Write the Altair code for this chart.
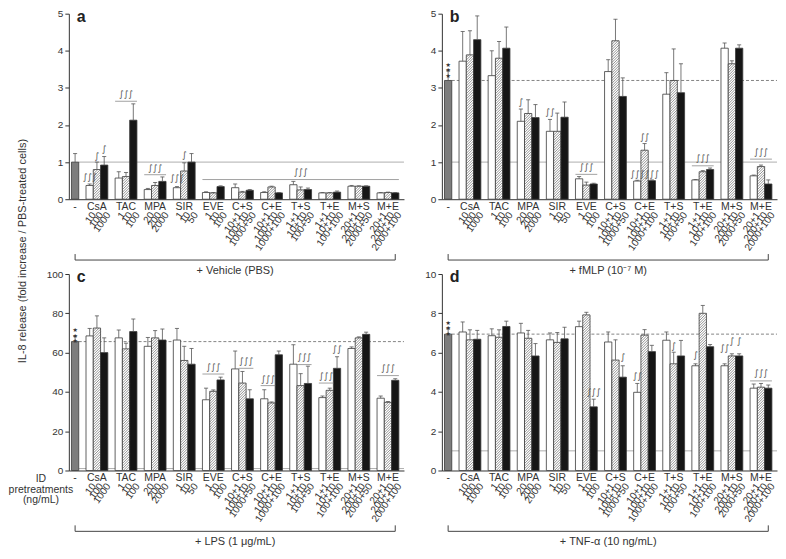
import altair as alt
import pandas as pd

# ---------------- data ----------------
groups = ["CsA", "TAC", "MPA", "SIR", "EVE", "C+S", "C+E", "T+S", "T+E", "M+S", "M+E"]
doses = [["10", "100", "1000"], ["1", "10", "100"], ["20", "200", "2000"], ["1", "10", "50"],
         ["1", "10", "100"], ["10+1", "100+10", "1000+50"], ["10+1", "100+10", "1000+100"],
         ["1+1", "10+10", "100+50"], ["1+1", "10+10", "100+100"], ["20+1", "200+10", "2000+50"],
         ["20+1", "200+10", "2000+100"]]

# panel a : + Vehicle (PBS)   [control mean, control upper error]
a_ctrl = [1.00, 1.23]
a_mean = [0.37, 0.80, 0.92, 0.57, 0.61, 2.13, 0.26, 0.37, 0.48, 0.31, 0.76, 1.00,
          0.18, 0.17, 0.34, 0.31, 0.19, 0.24, 0.18, 0.33, 0.17, 0.39, 0.25, 0.26,
          0.17, 0.17, 0.19, 0.35, 0.35, 0.35, 0.17, 0.18, 0.17]
a_top = [0.41, 1.00, 1.15, 0.74, 0.72, 2.57, 0.29, 0.45, 0.60, 0.34, 0.98, 1.23,
         0.20, 0.18, 0.36, 0.41, 0.21, 0.26, 0.20, 0.35, 0.18, 0.48, 0.33, 0.30,
         0.18, 0.18, 0.22, 0.37, 0.36, 0.36, 0.18, 0.19, 0.18]
a_ann = [("∫∫∫", 0, 0, 0.61, None), ("∫", 1, 1, 1.17, None), ("∫", 2, 2, 1.35, None),
         ("∫∫∫", 3, 5, 2.84, 2.64), ("∫∫∫", 6, 8, 0.84, 0.66), ("∫∫∫", 9, 9, 0.58, None),
         ("∫", 10, 10, 1.2, None), ("∫∫∫", 12, 32, 0.74, 0.53)]

# panel b : + fMLP
b_ctrl = [3.20, 3.46]
b_mean = [3.72, 3.89, 4.30, 3.33, 3.80, 4.07, 2.10, 2.31, 2.20, 1.83, 1.83, 2.21,
          0.55, 0.38, 0.41, 3.44, 4.27, 2.77, 0.49, 1.32, 0.50, 2.83, 3.20, 2.87,
          0.52, 0.74, 0.80, 4.07, 3.65, 4.07, 0.63, 0.88, 0.41]
b_top = [4.52, 4.54, 4.94, 4.00, 4.25, 4.64, 2.43, 2.68, 2.55, 2.15, 2.32, 2.62,
         0.61, 0.46, 0.43, 3.76, 4.85, 3.27, 0.51, 1.50, 0.52, 3.41, 4.05, 3.65,
         0.53, 0.77, 0.84, 4.21, 3.73, 4.16, 0.65, 0.92, 0.52]
b_ann = [("∫", 6, 6, 2.63, None), ("∫∫", 9, 9, 2.35, None), ("∫∫∫", 12, 14, 0.88, 0.67),
         ("∫∫∫", 18, 18, 0.69, None), ("∫∫", 19, 19, 1.68, None), ("∫∫∫", 20, 20, 0.69, None),
         ("∫∫∫", 24, 26, 1.10, 0.90), ("∫∫∫", 30, 32, 1.27, 1.08)]

# panel c : + LPS
c_ctrl = [65.6, 68.3]
c_mean = [68.5, 72.5, 60.0, 67.5, 61.9, 70.7, 63.2, 67.5, 66.4, 66.4, 56.0, 54.1,
          36.0, 40.3, 46.1, 51.7, 44.5, 36.5, 36.5, 34.4, 58.9, 54.1, 43.2, 44.3,
          37.1, 40.8, 52.0, 62.1, 67.5, 69.3, 36.8, 34.7, 45.9]
c_top = [72.3, 78.7, 67.5, 71.5, 64.8, 77.1, 67.7, 71.2, 72.0, 72.3, 63.2, 62.1,
         41.9, 41.0, 47.5, 60.8, 50.4, 41.1, 41.1, 34.9, 60.8, 64.0, 49.3, 53.1,
         37.9, 41.9, 57.9, 62.9, 68.0, 70.4, 37.9, 35.1, 46.7]
c_ann = [("∫∫∫", 12, 14, 52.5, 49.1), ("∫∫∫", 16, 17, 55.7, 52.0), ("∫∫∫", 18, 19, 46.4, 43.2),
         ("∫∫∫", 22, 23, 57.6, 53.9), ("∫∫∫", 24, 25, 48.0, 44.5), ("∫∫", 26, 26, 61.6, None),
         ("∫∫∫", 30, 32, 52.0, 48.3)]

# panel d : + TNF-alpha
d_ctrl = [6.94, 7.21]
d_mean = [7.05, 6.65, 6.68, 6.86, 6.78, 7.33, 7.00, 6.73, 5.83, 6.65, 6.52, 6.70,
          7.32, 7.92, 3.24, 6.54, 5.62, 4.75, 3.98, 6.89, 6.05, 6.63, 5.43, 5.83,
          5.33, 8.00, 6.30, 5.33, 5.83, 5.83, 4.19, 4.24, 4.19]
d_top = [7.56, 7.16, 7.13, 7.21, 7.16, 7.60, 7.49, 7.13, 6.46, 7.00, 7.02, 7.29,
         7.60, 8.05, 3.63, 7.05, 6.65, 5.33, 4.43, 7.17, 6.37, 7.05, 6.02, 6.62,
         5.43, 8.40, 6.41, 5.43, 5.94, 5.94, 4.40, 4.43, 4.35]
d_ann = [("∫∫∫", 14, 14, 4.0, None), ("∫", 17, 17, 5.78, None), ("∫∫", 18, 18, 4.83, None),
         ("∫", 22, 22, 6.33, None), ("∫", 24, 24, 5.86, None), ("∫∫", 27, 27, 6.25, None),
         ("∫", 28, 28, 6.57, None), ("∫", 29, 29, 6.57, None), ("∫∫∫", 30, 32, 4.94, 4.56)]

# ---------------- layout ----------------
FONT = "Liberation Sans"
TXT = "#333333"
W = 336
H_TOP = 186
H_BOT = 197
XMIN, XMAX = -0.86, 45.2
KINDS = ["white", "hatch", "black"]


def slot_of(i):
    g, k = divmod(i, 3)
    return 2 + 4 * g + k


def make_panel(ctrl, means, tops, ymax, yticks, H, letter, cond, ann,
               dashed=None, stars=False, extra=None):
    xsc = alt.Scale(domain=[XMIN, XMAX], nice=False, zero=False)
    ysc = alt.Scale(domain=[0, ymax], nice=False, zero=True)
    xax = alt.Axis(labels=False, ticks=False, title=None, grid=False,
                   domainColor="#333333", domainWidth=1)
    yax = alt.Axis(values=yticks, title=None, grid=False, tickSize=4,
                   labelFontSize=10, labelColor=TXT, domainColor="#333333",
                   tickColor="#333333", labelPadding=2, labelFont=FONT)
    X = lambda f: alt.X(f, type="quantitative", scale=xsc, axis=xax, title=None)
    Y = lambda f: alt.Y(f, type="quantitative", scale=ysc, axis=yax, title=None)
    pps = W / (XMAX - XMIN)
    ppu = H / ymax

    rows = [dict(slot=0, x0=-0.5, x1=0.5, mean=ctrl[0], top=ctrl[1], kind="ctrl")]
    for i, (m, t) in enumerate(zip(means, tops)):
        s = slot_of(i)
        rows.append(dict(slot=s, x0=s - 0.5, x1=s + 0.5, mean=m, top=t, kind=KINDS[i % 3]))
    bars = pd.DataFrame(rows)
    bars["base"] = 0.0
    bars["cl"] = bars["slot"] - 0.28
    bars["cr"] = bars["slot"] + 0.28

    # diagonal hatch texture for the middle dose bars
    hs = []
    sp = 2.6
    bw = pps
    for r in rows:
        if r["kind"] != "hatch":
            continue
        bh = r["mean"] * ppu
        c = -bw + sp / 2
        while c < bh:
            xs = max(0.0, -c)
            xe = min(bw, bh - c)
            if xe > xs:
                hs.append(dict(hx=r["x0"] + xs / pps, hx2=r["x0"] + xe / pps,
                               hy=(xs + c) / ppu, hy2=(xe + c) / ppu))
            c += sp
    hatch = pd.DataFrame(hs)

    ref = pd.DataFrame([dict(xa=0.5, xb=XMAX, y=1.0)])
    layers = [alt.Chart(ref).mark_rule(color="#9a9a9a", strokeWidth=0.8).encode(
        x=X("xa"), x2="xb", y=Y("y"))]
    if dashed is not None:
        dref = pd.DataFrame([dict(xa=0.5, xb=XMAX, y=dashed)])
        layers.append(alt.Chart(dref).mark_rule(color="#666666", strokeWidth=0.8,
                                                 strokeDash=[3, 2]).encode(
            x=X("xa"), x2="xb", y=Y("y")))

    layers.append(alt.Chart(bars).mark_bar(stroke="#3a3a3a", strokeWidth=0.8).encode(
        x=X("x0"), x2="x1:Q", y=Y("mean"), y2="base:Q",
        fill=alt.Color("kind:N", legend=None,
                       scale=alt.Scale(domain=["ctrl", "white", "hatch", "black"],
                                       range=["#7d7d7d", "#ffffff", "#ffffff", "#161616"]))))
    layers.append(alt.Chart(hatch).mark_rule(color="#4a4a4a", strokeWidth=0.6).encode(
        x=X("hx"), x2="hx2", y=Y("hy"), y2="hy2"))
    layers.append(alt.Chart(bars).mark_rule(color="#555555", strokeWidth=0.8).encode(
        x=X("slot"), y=Y("mean"), y2="top"))
    layers.append(alt.Chart(bars).mark_rule(color="#555555", strokeWidth=0.8).encode(
        x=X("cl"), x2="cr", y=Y("top")))

    # significance annotations
    at, al = [], []
    for lab, i0, i1, yt, yl in ann:
        s0, s1 = slot_of(i0), slot_of(i1)
        at.append(dict(lab=lab, xc=(s0 + s1) / 2, y=yt))
        if yl is not None:
            al.append(dict(xa=s0 - 0.5, xb=s1 + 0.5, y=yl))
    layers.append(alt.Chart(pd.DataFrame(at)).mark_text(
        font="DejaVu Sans", fontSize=9, color="#555555",
        baseline="middle").encode(x=X("xc"), y=Y("y"), text="lab:N"))
    if al:
        layers.append(alt.Chart(pd.DataFrame(al)).mark_rule(
            color="#8a8a8a", strokeWidth=0.8).encode(x=X("xa"), x2="xb", y=Y("y")))

    if stars:
        sd = pd.DataFrame([dict(slot=0, top=ctrl[1], lab="★\n★\n★")])
        layers.append(alt.Chart(sd).mark_text(
            lineBreak="\n", fontSize=6, lineHeight=5.5, color="#333333", baseline="bottom",
            dy=-3, font="DejaVu Sans").encode(x=X("slot"), y=Y("top"), text="lab:N"))

    # category labels below the axis
    gl = pd.DataFrame([dict(lab="-", x=0)] +
                      [dict(lab=g, x=3 + 4 * i) for i, g in enumerate(groups)])
    layers.append(alt.Chart(gl).mark_text(
        font=FONT, fontSize=10.5, color=TXT, baseline="middle").encode(
        x=X("x"), y=alt.value(H + 7.5), text="lab:N"))
    dl = pd.DataFrame([dict(lab=doses[g][k], x=slot_of(3 * g + k) + 0.6)
                       for g in range(len(groups)) for k in range(3)])
    layers.append(alt.Chart(dl).mark_text(
        font=FONT, fontSize=10, color=TXT, align="right", baseline="middle",
        angle=305).encode(x=X("x"), y=alt.value(H + 14), text="lab:N"))

    # bracket and stimulus label
    br = pd.DataFrame([dict(xa=0, xb=44)])
    layers.append(alt.Chart(br).mark_rule(color="#444444", strokeWidth=1).encode(
        x=X("xa"), x2="xb", y=alt.value(H + 61)))
    bt = pd.DataFrame([dict(x=0), dict(x=44)])
    layers.append(alt.Chart(bt).mark_rule(color="#444444", strokeWidth=1).encode(
        x=X("x"), y=alt.value(H + 55), y2=alt.value(H + 61)))
    ct = pd.DataFrame([dict(x=22, lab=cond)])
    layers.append(alt.Chart(ct).mark_text(
        font=FONT, fontSize=11, color=TXT, baseline="middle").encode(
        x=X("x"), y=alt.value(H + 72), text="lab:N"))

    # panel letter
    lt = pd.DataFrame([dict(lab=letter)])
    layers.append(alt.Chart(lt).mark_text(
        font=FONT, fontSize=16, fontWeight="bold", color="#222222", align="left",
        baseline="alphabetic").encode(x=alt.value(8), y=alt.value(8.5), text="lab:N"))

    if extra:
        for e in extra:
            layers.append(e)

    return alt.layer(*layers).properties(width=W, height=H)


ytitle = alt.Chart(pd.DataFrame([dict(lab="IL-8 release (fold increase / PBS-treated cells)")])).mark_text(
    font=FONT, fontSize=11, color=TXT, angle=270, baseline="middle").encode(
    x=alt.value(-46), y=alt.value(238), text="lab:N")

idlab = alt.Chart(pd.DataFrame([dict(lab="ID\npretreatments\n(ng/mL)")])).mark_text(
    font=FONT, fontSize=10.5, color=TXT, lineBreak="\n", lineHeight=10.5, baseline="top",
    align="center").encode(x=alt.value(-28), y=alt.value(H_BOT + 4), text="lab:N")

pa = make_panel(a_ctrl, a_mean, a_top, 5, [0, 1, 2, 3, 4, 5], H_TOP, "a",
                "+ Vehicle (PBS)", a_ann, extra=[ytitle])
pb = make_panel(b_ctrl, b_mean, b_top, 5, [0, 1, 2, 3, 4, 5], H_TOP, "b",
                "+ fMLP (10⁻⁷ M)", b_ann, dashed=3.2, stars=True)
pc = make_panel(c_ctrl, c_mean, c_top, 100, [0, 20, 40, 60, 80, 100], H_BOT, "c",
                "+ LPS (1 μg/mL)", c_ann, dashed=65.6, stars=True, extra=[idlab])
pd_ = make_panel(d_ctrl, d_mean, d_top, 10, [0, 2, 4, 6, 8, 10], H_BOT, "d",
                 "+ TNF-α (10 ng/mL)", d_ann, dashed=6.94, stars=True)

chart = alt.concat(pa, pb, pc, pd_, columns=2, spacing={"row": 75, "column": 38},
                   bounds="flush").properties(
    padding={"left": 0, "top": 0, "right": 0, "bottom": 0}
).configure(font=FONT).configure_view(stroke=None)

chart.save("out.html", embed_options={"renderer": "svg", "actions": False})
